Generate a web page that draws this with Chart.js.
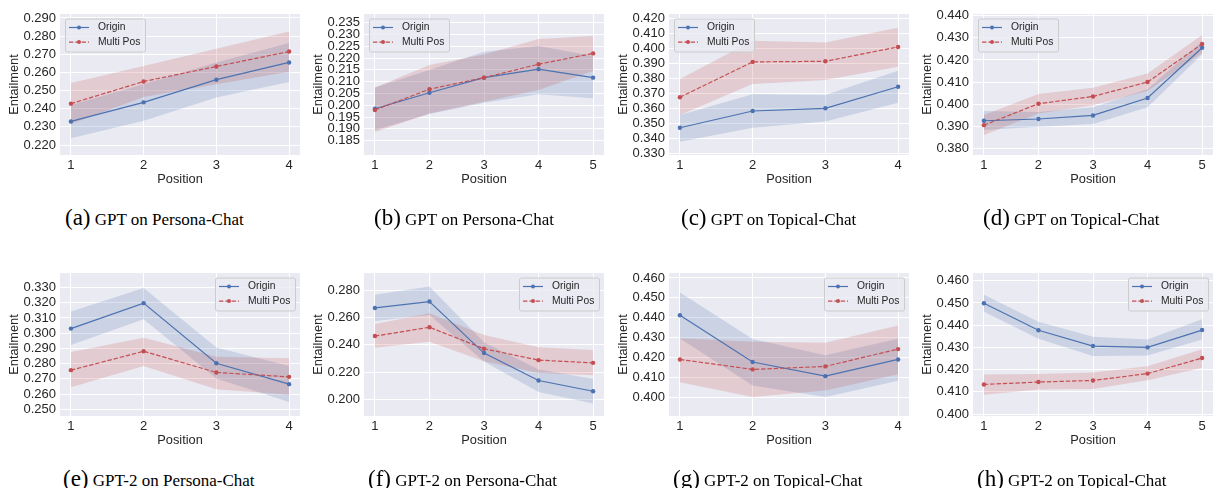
<!DOCTYPE html>
<html>
<head>
<meta charset="utf-8">
<script src="https://cdn.jsdelivr.net/npm/chart.js@4.4.0/dist/chart.umd.min.js"></script>
<style>
  html, body { margin: 0; padding: 0; background: #fff; }
  body { width: 1213px; height: 488px; position: relative; overflow: hidden; }
  canvas { position: absolute; }
  .cap { position: absolute; font-family: "Liberation Serif", "Times New Roman", serif; font-size: 17px; color: #000; white-space: nowrap; line-height: 26px; transform: translateY(-50%); }
  .cap span { font-size: 23px; }
</style>
</head>
<body>
<script>
// ---- data (Entailment by position) ----
const pos4 = [1, 2, 3, 4];
const pos5 = [1, 2, 3, 4, 5];

// (a) GPT on Persona-Chat
const aOrigin   = [0.2330, 0.2435, 0.2560, 0.2655];
const aOriginLo = [0.2237, 0.2334, 0.2462, 0.2548];
const aOriginHi = [0.2420, 0.2535, 0.2655, 0.2762];
const aMulti    = [0.2428, 0.2550, 0.2633, 0.2715];
const aMultiLo  = [0.2315, 0.2464, 0.2535, 0.2604];
const aMultiHi  = [0.2542, 0.2636, 0.2731, 0.2826];
const aYTicks = ['0.220', '0.230', '0.240', '0.250', '0.260', '0.270', '0.280', '0.290'];
const aYRange = [0.2145, 0.2922];

// (b) GPT on Persona-Chat
const bOrigin   = [0.1985, 0.2053, 0.2117, 0.2153, 0.2117];
const bOriginLo = [0.1895, 0.1963, 0.2011, 0.2047, 0.2030];
const bOriginHi = [0.2075, 0.2150, 0.2227, 0.2251, 0.2209];
const bMulti    = [0.1980, 0.2068, 0.2117, 0.2174, 0.2220];
const bMultiLo  = [0.1886, 0.1965, 0.2015, 0.2065, 0.2145];
const bMultiHi  = [0.2075, 0.2171, 0.2215, 0.2281, 0.2294];
const bYTicks = ['0.185', '0.190', '0.195', '0.200', '0.205', '0.210', '0.215', '0.220', '0.225', '0.230', '0.235'];
const bYRange = [0.1789, 0.2387];

// (c) GPT on Topical-Chat
const cOrigin   = [0.3471, 0.3583, 0.3601, 0.3745];
const cOriginLo = [0.3378, 0.3471, 0.3512, 0.3639];
const cOriginHi = [0.3556, 0.3695, 0.3690, 0.3852];
const cMulti    = [0.3675, 0.3911, 0.3915, 0.4011];
const cMultiLo  = [0.3556, 0.3763, 0.3790, 0.3879];
const cMultiHi  = [0.3797, 0.4053, 0.4040, 0.4140];
const cYTicks = ['0.330', '0.340', '0.350', '0.360', '0.370', '0.380', '0.390', '0.400', '0.410', '0.420'];
const cYRange = [0.3289, 0.4231];

// (d) GPT on Topical-Chat
const dOrigin   = [0.3925, 0.3933, 0.3949, 0.4028, 0.4255];
const dOriginLo = [0.3883, 0.3898, 0.3910, 0.3986, 0.4225];
const dOriginHi = [0.3969, 0.3965, 0.3986, 0.4067, 0.4285];
const dMulti    = [0.3905, 0.4002, 0.4035, 0.4100, 0.4272];
const dMultiLo  = [0.3860, 0.3958, 0.3995, 0.4060, 0.4232];
const dMultiHi  = [0.3951, 0.4046, 0.4074, 0.4139, 0.4313];
const dYTicks = ['0.380', '0.390', '0.400', '0.410', '0.420', '0.430', '0.440'];
const dYRange = [0.3770, 0.4408];

// (e) GPT-2 on Persona-Chat
const eOrigin   = [0.3030, 0.3197, 0.2802, 0.2665];
const eOriginLo = [0.2922, 0.3092, 0.2703, 0.2547];
const eOriginHi = [0.3142, 0.3296, 0.2905, 0.2784];
const eMulti    = [0.2757, 0.2881, 0.2742, 0.2713];
const eMultiLo  = [0.2645, 0.2784, 0.2632, 0.2595];
const eMultiHi  = [0.2876, 0.2970, 0.2845, 0.2835];
const eYTicks = ['0.250', '0.260', '0.270', '0.280', '0.290', '0.300', '0.310', '0.320', '0.330'];
const eYRange = [0.2456, 0.3395];

// (f) GPT-2 on Persona-Chat
const fOrigin   = [0.2672, 0.2719, 0.2340, 0.2138, 0.2059];
const fOriginLo = [0.2576, 0.2620, 0.2278, 0.2054, 0.1968];
const fOriginHi = [0.2768, 0.2830, 0.2420, 0.2220, 0.2150];
const fMulti    = [0.2465, 0.2530, 0.2372, 0.2288, 0.2268];
const fMultiLo  = [0.2379, 0.2423, 0.2280, 0.2194, 0.2177];
const fMultiHi  = [0.2554, 0.2633, 0.2473, 0.2382, 0.2362];
const fYTicks = ['0.200', '0.220', '0.240', '0.260', '0.280'];
const fYRange = [0.1877, 0.2929];

// (g) GPT-2 on Topical-Chat
const gOrigin   = [0.4413, 0.4178, 0.4107, 0.4191];
const gOriginLo = [0.4297, 0.4060, 0.4003, 0.4084];
const gOriginHi = [0.4527, 0.4294, 0.4212, 0.4295];
const gMulti    = [0.4191, 0.4141, 0.4156, 0.4243];
const gMultiLo  = [0.4076, 0.4003, 0.4035, 0.4117];
const gMultiHi  = [0.4297, 0.4280, 0.4275, 0.4361];
const gYTicks = ['0.400', '0.410', '0.420', '0.430', '0.440', '0.450', '0.460'];
const gYRange = [0.3907, 0.4625];

// (h) GPT-2 on Topical-Chat
const hOrigin   = [0.4499, 0.4377, 0.4306, 0.4300, 0.4378];
const hOriginLo = [0.4461, 0.4339, 0.4261, 0.4264, 0.4336];
const hOriginHi = [0.4537, 0.4416, 0.4348, 0.4336, 0.4427];
const hMulti    = [0.4133, 0.4144, 0.4151, 0.4182, 0.4252];
const hMultiLo  = [0.4087, 0.4110, 0.4113, 0.4152, 0.4208];
const hMultiHi  = [0.4178, 0.4180, 0.4187, 0.4215, 0.4292];
const hYTicks = ['0.400', '0.410', '0.420', '0.430', '0.440', '0.450', '0.460'];
const hYRange = [0.3991, 0.4635];

const captions = ['GPT on Persona-Chat', 'GPT on Persona-Chat', 'GPT on Topical-Chat', 'GPT on Topical-Chat',
                  'GPT-2 on Persona-Chat', 'GPT-2 on Persona-Chat', 'GPT-2 on Topical-Chat', 'GPT-2 on Topical-Chat'];
const letters = ['a', 'b', 'c', 'd', 'e', 'f', 'g', 'h'];

// ---- layout (plot area boxes, px) ----
const colX = [60, 364, 669, 973];
const rowY = [14, 273];
const rowH = [141, 143];
const plotW = 240;
const capX = [65, 374, 681, 983, 63, 368, 673, 977];
const capY = [219, 480];

const BLUE = '#4C72B0';
const RED = '#C44E52';
const FONT = '"Liberation Sans", Arial, sans-serif';
const TXT = '#262626';

// shaded plot background like seaborn darkgrid
const chartBg = {
    id: 'chartBg',
    beforeDraw(chart) {
        const { ctx, chartArea: a } = chart;
        ctx.save();
        ctx.fillStyle = '#EAEAF2';
        ctx.fillRect(a.left, a.top, a.right - a.left, a.bottom - a.top);
        ctx.restore();
    }
};

// legend drawn inside the plot area (line + marker samples)
const innerLegend = {
    id: 'innerLegend',
    afterDraw(chart, args, opts) {
        const { ctx, chartArea: a } = chart;
        const w = 80, h = 33;
        const x = opts.corner === 'right' ? a.right - 5 - w : a.left + 5;
        const y = a.top + 4.5;
        ctx.save();
        ctx.fillStyle = 'rgba(234,234,242,0.8)';
        ctx.strokeStyle = '#cccccc';
        ctx.lineWidth = 1;
        ctx.beginPath();
        ctx.roundRect(x + 0.5, y + 0.5, w, h, 2);
        ctx.fill();
        ctx.stroke();
        const entries = [
            { text: 'Origin', color: BLUE, dash: [] },
            { text: 'Multi Pos', color: RED, dash: [4.4, 1.9] }
        ];
        entries.forEach((e, i) => {
            const cy = y + 9 + i * 14.6;
            ctx.strokeStyle = e.color;
            ctx.lineWidth = 1.2;
            ctx.setLineDash(e.dash);
            ctx.beginPath();
            ctx.moveTo(x + 4, cy);
            ctx.lineTo(x + 24, cy);
            ctx.stroke();
            ctx.setLineDash([]);
            ctx.fillStyle = e.color;
            ctx.beginPath();
            ctx.arc(x + 14, cy, 2, 0, Math.PI * 2);
            ctx.fill();
            ctx.fillStyle = TXT;
            ctx.font = '10.3px ' + FONT;
            ctx.textBaseline = 'middle';
            ctx.fillText(e.text, x + 33, cy);
        });
        ctx.restore();
    }
};

function drawPanel(p) {
    const cv = document.createElement('canvas');
    const W = 60 + plotW + 8, H = 6 + p.h + 35;
    cv.width = W;
    cv.height = H;
    cv.style.left = (p.x - 60) + 'px';
    cv.style.top = (p.y - 6) + 'px';
    cv.style.width = W + 'px';
    cv.style.height = H + 'px';
    document.body.appendChild(cv);

    const pts = ys => p.pos.map((x, i) => ({ x: x, y: ys[i] }));
    const n = p.pos.length;
    const margin = (p.pos[n - 1] - p.pos[0]) * 0.05;
    const band = { borderWidth: 0, borderColor: 'transparent', pointRadius: 0, tension: 0 };
    const line = { borderWidth: 1.2, pointRadius: 2.2, pointBorderWidth: 0, pointHoverRadius: 0, fill: false, tension: 0, order: 0 };

    new Chart(cv.getContext('2d'), {
        type: 'line',
        data: {
            datasets: [
                { ...line, label: 'Multi Pos', data: pts(p.multi), borderColor: RED, backgroundColor: RED, borderDash: [4.4, 1.9] },
                { ...line, label: 'Origin', data: pts(p.origin), borderColor: BLUE, backgroundColor: BLUE },
                { ...band, data: pts(p.originHi), fill: '+1', backgroundColor: 'rgba(76,114,176,0.2)', order: 2 },
                { ...band, data: pts(p.originLo), fill: false, order: 2 },
                { ...band, data: pts(p.multiHi), fill: '+1', backgroundColor: 'rgba(196,78,82,0.2)', order: 1 },
                { ...band, data: pts(p.multiLo), fill: false, order: 1 }
            ]
        },
        options: {
            responsive: false,
            animation: false,
            devicePixelRatio: 1,
            layout: { padding: { left: 0, top: 6, right: 8, bottom: 0 } },
            plugins: {
                legend: { display: false },
                tooltip: { enabled: false },
                innerLegend: { corner: p.corner }
            },
            scales: {
                x: {
                    type: 'linear',
                    min: p.pos[0] - margin,
                    max: p.pos[n - 1] + margin,
                    afterBuildTicks: s => { s.ticks = p.pos.map(v => ({ value: v })); },
                    afterFit: s => { s.height = 35; s.paddingLeft = 0; s.paddingRight = 0; },
                    grid: { color: '#ffffff', lineWidth: 1, drawTicks: false },
                    border: { display: false },
                    ticks: { color: TXT, font: { family: FONT, size: 13 }, padding: 3, autoSkip: false, maxRotation: 0, callback: v => String(v) },
                    title: { display: true, text: 'Position', color: TXT, font: { family: FONT, size: 12.8 }, padding: { top: 0, bottom: 3 } }
                },
                y: {
                    min: p.yRange[0],
                    max: p.yRange[1],
                    afterBuildTicks: s => { s.ticks = p.yTicks.map(t => ({ value: parseFloat(t) })); },
                    afterFit: s => { s.width = 60; s.paddingTop = 0; s.paddingBottom = 0; },
                    grid: { color: '#ffffff', lineWidth: 1, drawTicks: false },
                    border: { display: false },
                    ticks: { color: TXT, font: { family: FONT, size: 13 }, padding: 4, autoSkip: false, callback: (v, i) => p.yTicks[i] },
                    title: { display: true, text: 'Entailment', color: TXT, font: { family: FONT, size: 12.8 }, padding: { top: 7, bottom: 0 } }
                }
            }
        },
        plugins: [chartBg, innerLegend]
    });
}

const panels = [
    { pos: pos4, origin: aOrigin, originLo: aOriginLo, originHi: aOriginHi, multi: aMulti, multiLo: aMultiLo, multiHi: aMultiHi, yTicks: aYTicks, yRange: aYRange },
    { pos: pos5, origin: bOrigin, originLo: bOriginLo, originHi: bOriginHi, multi: bMulti, multiLo: bMultiLo, multiHi: bMultiHi, yTicks: bYTicks, yRange: bYRange },
    { pos: pos4, origin: cOrigin, originLo: cOriginLo, originHi: cOriginHi, multi: cMulti, multiLo: cMultiLo, multiHi: cMultiHi, yTicks: cYTicks, yRange: cYRange },
    { pos: pos5, origin: dOrigin, originLo: dOriginLo, originHi: dOriginHi, multi: dMulti, multiLo: dMultiLo, multiHi: dMultiHi, yTicks: dYTicks, yRange: dYRange },
    { pos: pos4, origin: eOrigin, originLo: eOriginLo, originHi: eOriginHi, multi: eMulti, multiLo: eMultiLo, multiHi: eMultiHi, yTicks: eYTicks, yRange: eYRange },
    { pos: pos5, origin: fOrigin, originLo: fOriginLo, originHi: fOriginHi, multi: fMulti, multiLo: fMultiLo, multiHi: fMultiHi, yTicks: fYTicks, yRange: fYRange },
    { pos: pos4, origin: gOrigin, originLo: gOriginLo, originHi: gOriginHi, multi: gMulti, multiLo: gMultiLo, multiHi: gMultiHi, yTicks: gYTicks, yRange: gYRange },
    { pos: pos5, origin: hOrigin, originLo: hOriginLo, originHi: hOriginHi, multi: hMulti, multiLo: hMultiLo, multiHi: hMultiHi, yTicks: hYTicks, yRange: hYRange }
];

panels.forEach((p, i) => {
    const row = i < 4 ? 0 : 1;
    p.x = colX[i % 4];
    p.y = rowY[row];
    p.h = rowH[row];
    p.corner = row === 0 ? 'left' : 'right';
    drawPanel(p);

    const cap = document.createElement('div');
    cap.className = 'cap';
    cap.style.left = capX[i] + 'px';
    cap.style.top = capY[row] + 'px';
    cap.innerHTML = '<span>(' + letters[i] + ')</span> ' + captions[i];
    document.body.appendChild(cap);
});
</script>
</body>
</html>
